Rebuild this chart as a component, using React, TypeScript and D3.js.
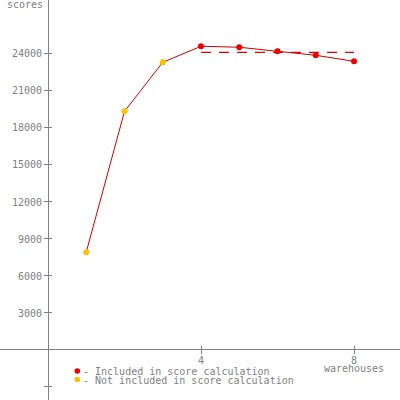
import React from "react";
import * as d3 from "d3";

const warehouses = [1, 2, 3, 4, 5, 6, 7, 8];
const scores = [7900, 19300, 23270, 24570, 24490, 24160, 23840, 23350];
const included = [false, false, false, true, true, true, true, true];
const yTicks = [3000, 6000, 9000, 12000, 15000, 18000, 21000, 24000];
const xTicks = [4, 8];
const legendLabels = ["- Included in score calculation", "- Not included in score calculation"];

export default function App() {
  const W = 400, H = 400;
  const x = d3.scaleLinear().domain([0, 8]).range([48, 354]);
  const y = d3.scaleLinear().domain([0, 24000]).range([349.7, 53.3]);
  const font = "'DejaVu Sans Mono', monospace";
  const gray = "#808080";
  const line = d3.line<number>().x((_, i) => x(warehouses[i])).y((d) => y(d));
  const inc = scores.filter((_, i) => included[i]);
  const incX = warehouses.filter((_, i) => included[i]);
  const avg = d3.mean(inc) as number;
  return (
    <svg width={W} height={H} style={{ position: "absolute", left: 0, top: 0, background: "#fff" }}>
      <rect width={W} height={H} fill="#fff" />
      {/* axes */}
      <line x1={x(0)} x2={x(0)} y1={0} y2={H} stroke={gray} strokeWidth={1} shapeRendering="crispEdges" />
      <line x1={0} x2={W} y1={y(0)} y2={y(0)} stroke={gray} strokeWidth={1} shapeRendering="crispEdges" />
      {[...yTicks, -3000].map((t) => (
        <line key={t} x1={x(0) - 4} x2={x(0) + 4} y1={y(t)} y2={y(t)} stroke={gray} shapeRendering="crispEdges" />
      ))}
      {yTicks.map((t) => (
        <text key={t} x={42} y={y(t) + 4} textAnchor="end" fontFamily={font} fontSize={10} fill={gray}>{t}</text>
      ))}
      {xTicks.map((t) => (
        <g key={t}>
          <line x1={x(t)} x2={x(t)} y1={y(0) - 4} y2={y(0) + 4} stroke={gray} shapeRendering="crispEdges" />
          <text x={x(t)} y={364} textAnchor="middle" fontFamily={font} fontSize={10} fill={gray}>{t}</text>
        </g>
      ))}
      <text x={x(8)} y={372} textAnchor="middle" fontFamily={font} fontSize={10} fill={gray}>warehouses</text>
      <text x={43} y={8} textAnchor="end" fontFamily={font} fontSize={10} fill={gray}>scores</text>
      {/* average dashed line */}
      <line x1={x(incX[0])} x2={x(incX[incX.length - 1])} y1={y(avg)} y2={y(avg)} stroke="#e00000" strokeWidth={1.2} strokeDasharray="10,8" />
      {/* data line */}
      <path d={line(scores) || ""} fill="none" stroke="#cc0000" strokeWidth={1} />
      {scores.map((s, i) => (
        <circle key={i} cx={x(warehouses[i])} cy={y(s)} r={3} fill={included[i] ? "#ee0000" : "#ffc000"} />
      ))}
      {/* legend */}
      <circle cx={77.3} cy={371} r={2.8} fill="#ee0000" />
      <circle cx={77.3} cy={379.5} r={2.8} fill="#ffc000" />
      <text x={83} y={375} fontFamily={font} fontSize={10} fill={gray}>{legendLabels[0]}</text>
      <text x={83} y={384} fontFamily={font} fontSize={10} fill={gray}>{legendLabels[1]}</text>
    </svg>
  );
}
